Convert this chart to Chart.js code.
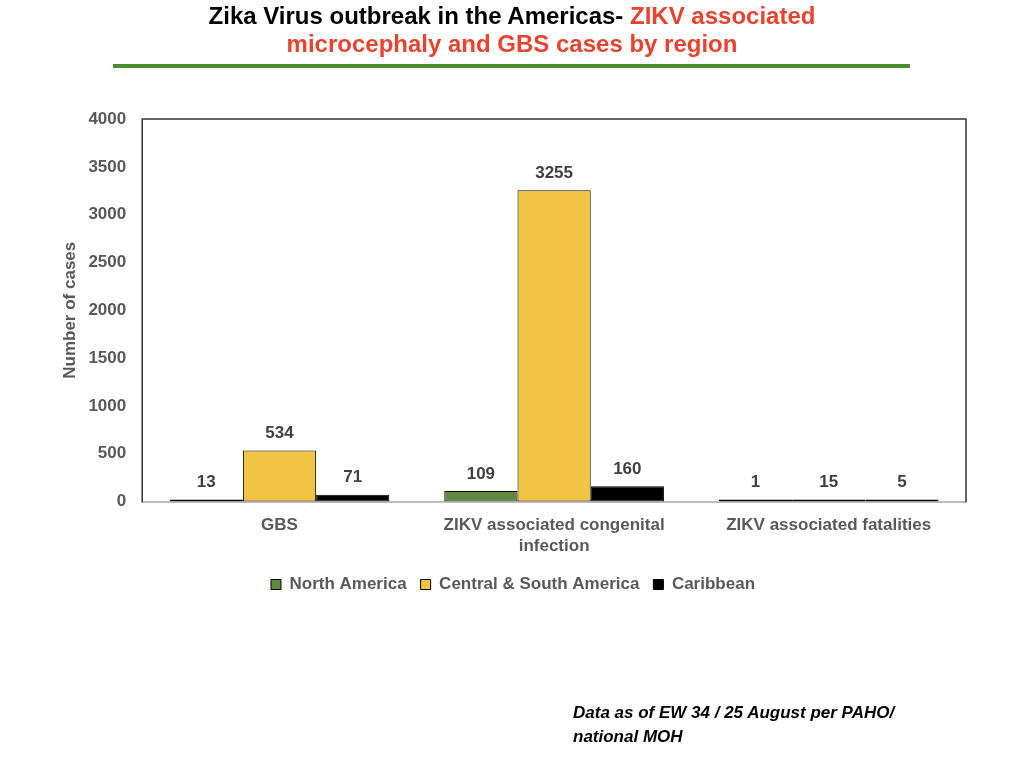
<!DOCTYPE html>
<html>
<head>
<meta charset="utf-8">
<script src="https://cdn.jsdelivr.net/npm/chart.js@4/dist/chart.umd.min.js"></script>
<style>
    body { margin: 0; background: #fff; }
    #wrap { position: relative; width: 1024px; height: 768px; overflow: hidden; }
    #title {
        position: absolute; left: 0; top: 2px; width: 1024px; text-align: center;
        font-family: "Liberation Sans", Arial, sans-serif;
        font-weight: bold; font-size: 24px; line-height: 28px; color: #000;
    }
    #title .red { color: #e8432e; }
    #rule { position: absolute; left: 113px; top: 64px; width: 797px; height: 4px; background: #4a8e32; }
    #note {
        position: absolute; left: 573px; top: 701px;
        font-family: "Liberation Sans", Arial, sans-serif;
        font-weight: bold; font-style: italic; font-size: 17px; line-height: 24px; color: #000;
    }
    #chartBox { position: absolute; left: 0; top: 0; width: 1024px; height: 768px; }
</style>
</head>
<body>
<div id="wrap">
    <div id="chartBox"><canvas id="zikaChart"></canvas></div>
    <div id="title">Zika Virus outbreak in the Americas- <span class="red">ZIKV associated</span><br><span class="red">microcephaly and GBS cases by region</span></div>
    <div id="rule"></div>
    <div id="note">Data as of EW 34 / 25 August per PAHO/<br>national MOH</div>
</div>
<script>
const categories = ["GBS", ["ZIKV associated congenital", "infection"], "ZIKV associated fatalities"];
const northAmerica = [13, 109, 1];
const centralSouthAmerica = [534, 3255, 15];
const caribbean = [71, 160, 5];
const yTicks = [0, 500, 1000, 1500, 2000, 2500, 3000, 3500, 4000];

const gray = "#595959";
const font = "'Liberation Sans', Arial, sans-serif";

// value labels above each bar
const valueLabels = {
    id: "valueLabels",
    afterDatasetsDraw(chart) {
        const ctx = chart.ctx;
        ctx.save();
        ctx.font = "bold 17px " + font;
        ctx.fillStyle = "#404040";
        ctx.textAlign = "center";
        ctx.textBaseline = "middle";
        chart.data.datasets.forEach((ds, i) => {
            chart.getDatasetMeta(i).data.forEach((bar, j) => {
                ctx.fillText(ds.data[j], bar.x, bar.y - 17);
            });
        });
        ctx.restore();
    },
};

// box round the plot area; the grey base line goes under the bars
const plotBox = {
    id: "plotBox",
    beforeDatasetsDraw(chart) {
        const a = chart.chartArea;
        const ctx = chart.ctx;
        ctx.save();
        ctx.strokeStyle = "#a6a6a6";
        ctx.lineWidth = 1.5;
        ctx.beginPath();
        ctx.moveTo(a.left, a.bottom + 0.5);
        ctx.lineTo(a.right, a.bottom + 0.5);
        ctx.stroke();
        ctx.restore();
    },
    afterDraw(chart) {
        const a = chart.chartArea;
        const ctx = chart.ctx;
        ctx.save();
        ctx.strokeStyle = "#333";
        ctx.lineWidth = 1.5;
        ctx.beginPath();
        ctx.moveTo(a.left, a.bottom + 1);
        ctx.lineTo(a.left, a.top);
        ctx.lineTo(a.right, a.top);
        ctx.lineTo(a.right, a.bottom + 1);
        ctx.stroke();
        ctx.restore();
    },
};

new Chart(document.getElementById("zikaChart"), {
    type: "bar",
    data: {
        labels: categories,
        datasets: [
            { label: "North America", data: northAmerica, backgroundColor: "#5e8a3e" },
            { label: "Central & South America", data: centralSouthAmerica, backgroundColor: "#f2c443" },
            { label: "Caribbean", data: caribbean, backgroundColor: "#000000" },
        ].map((d) => Object.assign(d, {
            borderColor: "#000",
            borderWidth: 1,
            borderSkipped: false,
            minBarLength: 2,
            categoryPercentage: 0.8,
            barPercentage: 1.0,
        })),
    },
    options: {
        responsive: true,
        maintainAspectRatio: false,
        animation: false,
        layout: { padding: { left: 60, right: 58, top: 119, bottom: 165 } },
        plugins: {
            legend: {
                position: "bottom",
                labels: {
                    color: gray,
                    font: { family: font, size: 17, weight: "bold" },
                    boxWidth: 10,
                    boxHeight: 10,
                    padding: 14,
                },
            },
            tooltip: { enabled: false },
        },
        scales: {
            x: {
                grid: { display: false },
                border: { display: false },
                ticks: { color: gray, font: { family: font, size: 17, weight: "bold", lineHeight: 1.25 }, padding: 5 },
            },
            y: {
                min: 0,
                max: 4000,
                afterBuildTicks: (axis) => { axis.ticks = yTicks.map((v) => ({ value: v })); },
                grid: { display: false },
                border: { display: false },
                ticks: {
                    color: gray,
                    font: { family: font, size: 17, weight: "bold" },
                    padding: 8,
                    callback: (v) => String(v),
                },
                title: {
                    display: true,
                    text: "Number of cases",
                    color: gray,
                    font: { family: font, size: 17, weight: "bold" },
                    padding: { top: 0, bottom: 0 },
                },
            },
        },
    },
    plugins: [valueLabels, plotBox],
});
</script>
</body>
</html>
